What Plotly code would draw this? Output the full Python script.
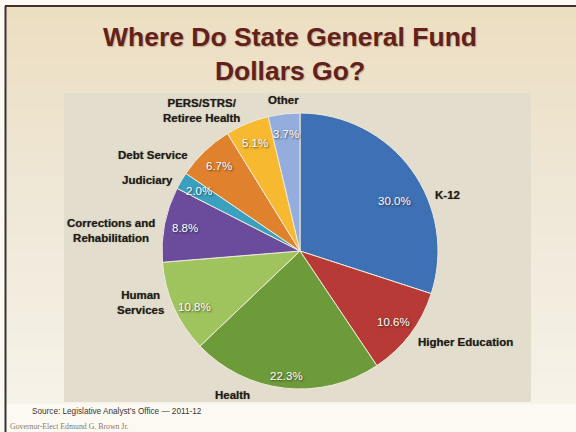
import math
import plotly.graph_objects as go

# Share of state General Fund spending, 2011-12 (percent), clockwise from 12 o'clock
categories = [
    "K-12",
    "Higher Education",
    "Health",
    "Human\nServices",
    "Corrections and\nRehabilitation",
    "Judiciary",
    "Debt Service",
    "PERS/STRS/\nRetiree Health",
    "Other",
]
shares = [30.0, 10.6, 22.3, 10.8, 8.8, 2.0, 6.7, 5.1, 3.7]
slice_colors = [
    "#3d70b4", "#b73a36", "#6e9b3a", "#9fc45e", "#6a4b9c",
    "#3aa0bf", "#e0812d", "#f6b92f", "#93aedc",
]

W, H = 576, 432

# pie geometry in pixels
CX, CY, R = 300, 251, 138

# per-category label tweaks: (angle offset in degrees, extra radial gap in px)
name_nudge = {0: (13, 0), 1: (1, 4), 2: (12, 8), 3: (3, 0), 4: (-3, 0),
              5: (-1, 0), 6: (-5, 2), 7: (0, 8)}
pct_nudge = {0: (8, -10), 2: (0, 8), 3: (-4, 2)}


def px(x):
    return x / W


def py(y):
    return 1 - y / H


fig = go.Figure()

fig.add_trace(go.Pie(
    labels=[c.replace("\n", " ") for c in categories],
    values=shares,
    sort=False,
    direction="clockwise",
    rotation=0,
    marker=dict(colors=slice_colors, line=dict(color="#efeadc", width=1)),
    textinfo="none",
    hoverinfo="label+value",
    showlegend=False,
    domain=dict(x=[px(CX - R), px(CX + R)], y=[py(CY + R), py(CY - R)]),
))

shapes = []
# slide background: vertical tan-to-cream gradient built from thin bands
top_rgb = (236, 222, 193)
mid_rgb = (239, 232, 216)
bot_rgb = (246, 242, 232)
y0, y1 = 7, 403
nb = 66
for i in range(nb):
    t = i / (nb - 1)
    if t < 0.5:
        a, b, u = top_rgb, mid_rgb, t / 0.5
    else:
        a, b, u = mid_rgb, bot_rgb, (t - 0.5) / 0.5
    c = tuple(round(a[k] + (b[k] - a[k]) * u) for k in range(3))
    ya = y0 + (y1 - y0) * i / nb
    yb = y0 + (y1 - y0) * (i + 1) / nb + 0.6
    shapes.append(dict(type="rect", xref="paper", yref="paper", layer="below",
                       x0=px(6), x1=1, y0=py(yb), y1=py(ya),
                       line=dict(width=0), fillcolor="rgb(%d,%d,%d)" % c))
# chart panel
shapes.append(dict(type="rect", xref="paper", yref="paper", layer="below",
                   x0=px(64), x1=px(531), y0=py(402), y1=py(93),
                   line=dict(width=0), fillcolor="#e2ddcc"))
# slide frame lines
shapes.append(dict(type="line", xref="paper", yref="paper",
                   x0=px(5), x1=1, y0=py(6), y1=py(6),
                   line=dict(color="#3a3232", width=2)))
shapes.append(dict(type="line", xref="paper", yref="paper",
                   x0=px(5.5), x1=px(5.5), y0=py(6), y1=0,
                   line=dict(color="#3a3232", width=2)))

annotations = []
total = sum(shares)
cum = 0.0
for i, (name, v) in enumerate(zip(categories, shares)):
    mid = (cum + v / 2) / total * 360
    cum += v

    # category name outside the slice
    da, dr = name_nudge.get(i, (0, 0))
    th = math.radians(mid + da)
    r = R + 6 + dr
    s, c = math.sin(th), math.cos(th)
    x, y = CX + r * s, CY - r * c
    xa = "left" if s > 0.3 else ("right" if s < -0.3 else "center")
    ya = "middle"
    if c > 0.9 and xa == "center":
        ya = "bottom"
    elif c < -0.9 and xa == "center":
        ya = "top"
    annotations.append(dict(
        x=px(x), y=py(y), xref="paper", yref="paper", showarrow=False,
        xanchor=xa, yanchor=ya, align="center",
        text=name.replace("\n", "<br>"),
        font=dict(family="Liberation Sans, Arial, sans-serif", size=11.5,
                  color="#1f1b17", weight="bold",
                  shadow="0px 0px 1px rgba(30,25,20,0.55)"),
    ))

    # percentage inside the slice
    pa, pr = pct_nudge.get(i, (0, 0))
    th = math.radians(mid + pa)
    r = 0.85 * R + pr
    x, y = CX + r * math.sin(th), CY - r * math.cos(th)
    annotations.append(dict(
        x=px(x), y=py(y), xref="paper", yref="paper", showarrow=False,
        xanchor="center", yanchor="middle",
        text="%.1f%%" % v,
        font=dict(family="Liberation Sans, Arial, sans-serif", size=11.5,
                  color="#ffffff",
                  shadow="1px 1px 2px rgba(40,30,20,0.75)"),
    ))

# title
annotations.append(dict(
    x=px(290), y=py(20), xref="paper", yref="paper", showarrow=False,
    xanchor="center", yanchor="top", align="center",
    text="Where Do State General Fund<br>Dollars Go?",
    font=dict(family="Liberation Sans, Arial, sans-serif", size=26.5,
              color="#62211a", weight="bold",
              shadow="1px 1px 1px rgba(120,80,60,0.35)"),
))
# source line and footer
annotations.append(dict(
    x=px(30), y=py(411), xref="paper", yref="paper", showarrow=False,
    xanchor="left", yanchor="middle",
    text="Source: Legislative Analyst\u2019s Office \u2014 2011-12",
    font=dict(family="Liberation Sans, Arial, sans-serif",
              size=8.2, color="#3a3530"),
))
annotations.append(dict(
    x=px(8), y=py(426), xref="paper", yref="paper", showarrow=False,
    xanchor="left", yanchor="middle",
    text="Governor-Elect Edmund G. Brown Jr.",
    font=dict(family="Liberation Serif, Times New Roman, serif",
              size=7.8, color="#8a7a68"),
))

fig.update_layout(
    width=W, height=H,
    margin=dict(l=0, r=0, t=0, b=0),
    paper_bgcolor="#fcf9f3",
    plot_bgcolor="rgba(0,0,0,0)",
    shapes=shapes,
    annotations=annotations,
    showlegend=False,
)

fig.write_html("out.html")
